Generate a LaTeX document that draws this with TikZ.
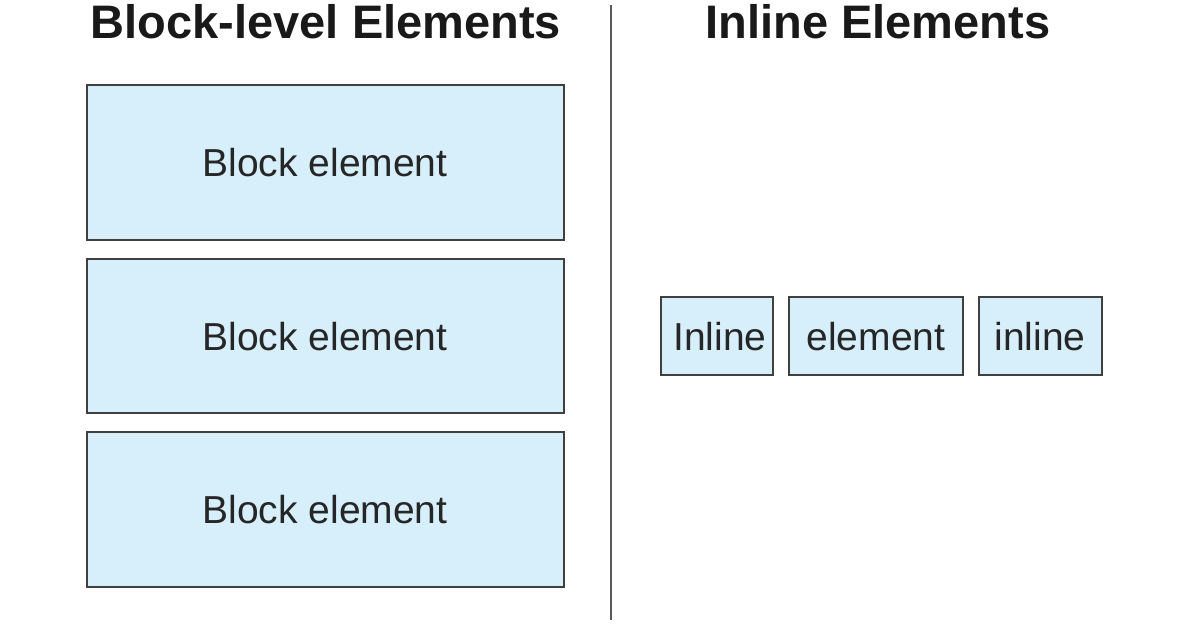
\documentclass[tikz,border=0pt]{standalone}
\usepackage{fontspec}
\setmainfont{Liberation Sans}
\begin{document}
\begin{tikzpicture}[x=1pt,y=-1pt,
  box/.style={draw=black!75,line width=1.5pt,fill={rgb,255:red,214;green,239;blue,251}},
  lbl/.style={font=\fontsize{39}{46}\selectfont,text=black!85},
  ttl/.style={font=\fontsize{47}{56}\selectfont\bfseries,text=black!90}]
\useasboundingbox (0,0) rectangle (1196,628);
\node[ttl] (t1) at (326,22) {Block-level Elements};
\node[ttl] (t2) at (878,22) {Inline Elements};
\draw[line width=2pt,black!65] (611,5) -- (611,620);
\draw[box] (87,85) rectangle (564,240);
\draw[box] (87,259) rectangle (564,413);
\draw[box] (87,432) rectangle (564,587);
\node[lbl] (b1) at (325,163) {Block element};
\node[lbl] (b2) at (325,337) {Block element};
\node[lbl] (b3) at (325,510) {Block element};
\draw[box] (661,297) rectangle (773,375);
\draw[box] (789,297) rectangle (963,375);
\draw[box] (979,297) rectangle (1102,375);
\node[lbl] (i1) at (720,337) {Inline};
\node[lbl] (i2) at (876,337) {element};
\node[lbl] (i3) at (1040,337) {inline};
\end{tikzpicture}
\end{document}
